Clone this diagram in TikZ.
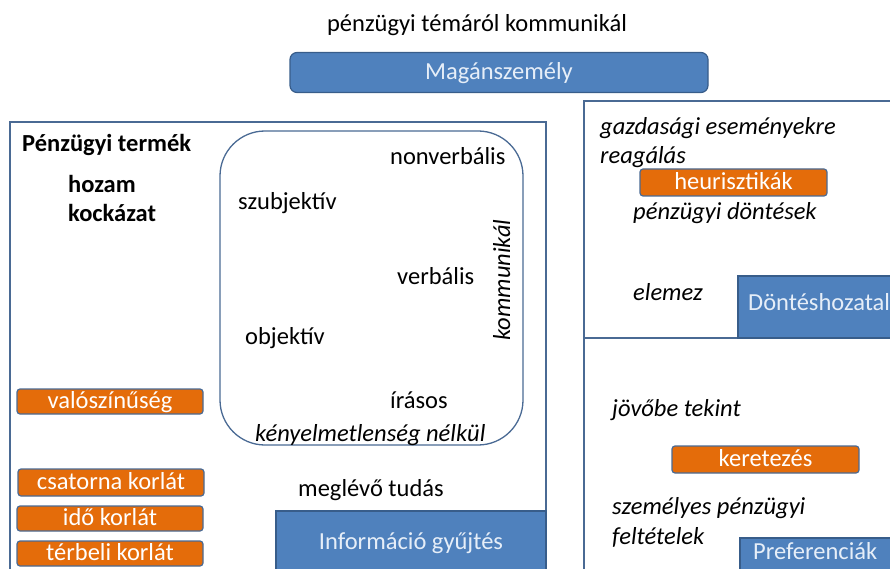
\documentclass[tikz,border=0pt]{standalone}
\usepackage{fontspec}
\setmainfont{Carlito}
\definecolor{bfill}{HTML}{4F81BD}
\definecolor{bedge}{HTML}{385D8A}
\definecolor{ofill}{HTML}{E46C0A}
\definecolor{frame}{HTML}{4A6A94}
\definecolor{btext}{HTML}{E6EEF8}
\begin{document}
\begin{tikzpicture}[x=1pt,y=-1pt,
  every node/.style={font=\fontsize{24.5}{28}\selectfont, inner sep=0pt, text height=20pt, text depth=2.4pt},
  lbl/.style={anchor=west},
  ilbl/.style={anchor=west, font=\fontsize{24.5}{28}\selectfont\itshape},
  blbl/.style={anchor=west, font=\fontsize{24.5}{28}\selectfont\bfseries},
  inbox/.style={text height=17pt, text depth=2.3pt},
  obox/.style={inbox, fill=ofill, draw=frame, line width=1.2pt, rounded corners=3pt, text=white, minimum width=186pt},
  bbox/.style={fill=bfill, draw=bedge, line width=1.2pt, text=btext},
  framebox/.style={draw=frame, line width=1.3pt}
]
\useasboundingbox (0,0) rectangle (890,569);
\clip (0,0) rectangle (890,569);
% frames
\draw[framebox] (10,122) rectangle (546,600);
\draw[framebox] (584,101) rectangle (900,338);
\draw[framebox] (584,338) rectangle (900,600);
\draw[draw=frame, line width=1.3pt, rounded corners=45pt] (220,131) rectangle (523,445);
% top
\node (top) at (477,23) {pénzügyi témáról kommunikál};
\node[bbox, inbox, rounded corners=7pt, minimum width=418pt, minimum height=40pt] (mag) at (499,72.5) {Magánszemély};
% left
\node[blbl] (pt) at (22,143) {Pénzügyi termék};
\node[blbl] (hoz) at (68,184) {hozam};
\node[blbl] (koc) at (68,213) {kockázat};
\node[lbl] (nonv) at (390,156) {nonverbális};
\node[lbl] (szub) at (238,201) {szubjektív};
\node[lbl] (verb) at (397,276) {verbális};
\node[lbl] (obj) at (245,336) {objektív};
\node[lbl] (iras) at (390,400) {írásos};
\node[ilbl] (keny) at (255,433) {kényelmetlenség nélkül};
\node[font=\fontsize{24.5}{28}\selectfont\itshape, rotate=90, text height=17pt, text depth=5pt] (komm) at (504,280) {kommunikál};
\node[obox, minimum height=25pt] (val) at (110,401.5) {valószínűség};
\node[obox, minimum height=27pt] (csat) at (111,482.5) {csatorna korlát};
\node[obox, minimum height=25pt] (ido) at (110,518.5) {idő korlát};
\node[obox, minimum height=25pt] (terb) at (110,553.5) {térbeli korlát};
\node[lbl] (megl) at (298,488) {meglévő tudás};
\draw[bbox] (276,511) rectangle (546,600);
\node[text=btext] (info) at (411,541) {Információ gyűjtés};
% right top
\node[ilbl] (gazd) at (600,126) {gazdasági eseményekre};
\node[ilbl] (reag) at (600,155) {reagálás};
\node[obox, minimum width=187pt, minimum height=27pt] (heur) at (733.5,182.5) {heurisztikák};
\node[ilbl] (pdon) at (633,211) {pénzügyi döntések};
\node[ilbl] (elem) at (633,292) {elemez};
\draw[bbox] (738,276) rectangle (900,338);
\node[lbl, text=btext] (dont) at (748,302) {Döntéshozatal};
% right bottom
\node[ilbl] (jovo) at (612,408) {jövőbe tekint};
\node[obox, minimum width=187pt, minimum height=27pt] (kere) at (765.5,459.5) {keretezés};
\node[ilbl] (szem) at (612,506) {személyes pénzügyi};
\node[ilbl] (felt) at (612,536) {feltételek};
\draw[bbox] (740,538) rectangle (900,600);
\node[lbl, text=btext] (pref) at (753,551) {Preferenciák};
\end{tikzpicture}
\end{document}
